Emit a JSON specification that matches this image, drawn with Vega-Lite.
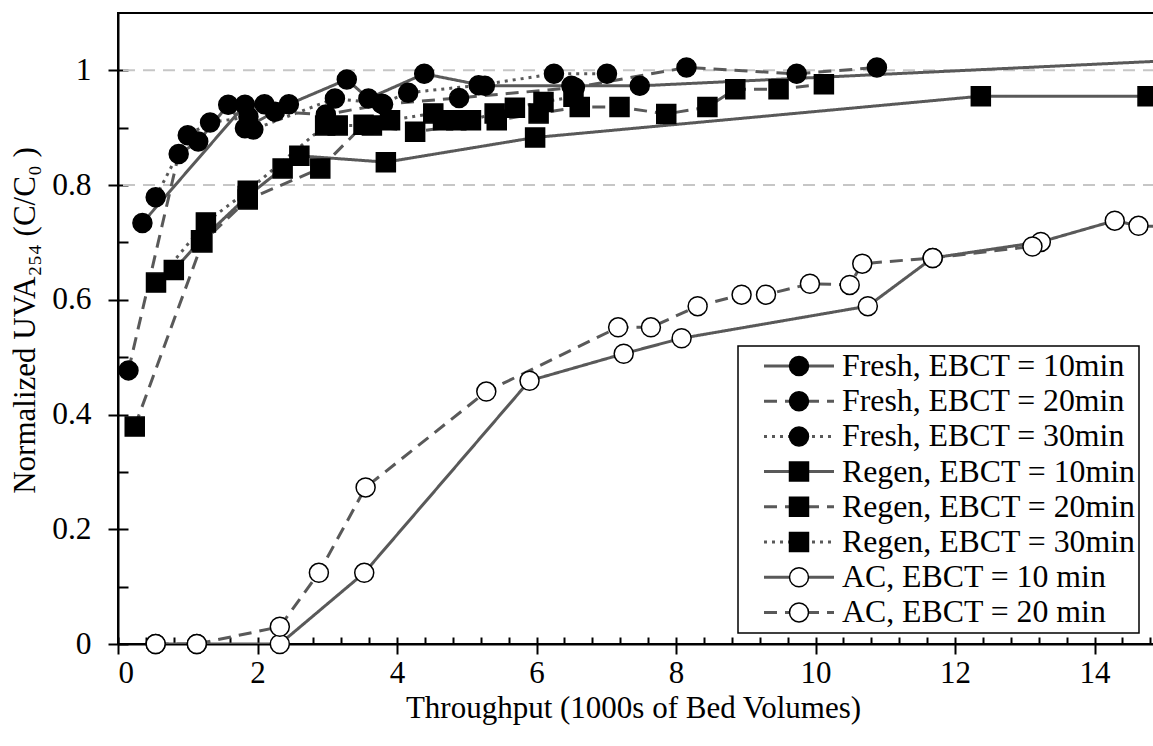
{
  "$schema": "https://vega.github.io/schema/vega-lite/v6.json",
  "width": 1037,
  "height": 631,
  "autosize": {"type": "none"},
  "padding": {"left": 118, "top": 13, "right": -2, "bottom": 102},
  "background": "white",
  "config": {
    "view": {"stroke": "black", "strokeWidth": 2},
    "axis": {
      "labelFont": "Liberation Serif",
      "titleFont": "Liberation Serif",
      "labelColor": "black",
      "titleColor": "black",
      "titleFontWeight": "normal",
      "domainColor": "black",
      "tickColor": "black",
      "domainWidth": 2,
      "tickWidth": 2,
      "grid": false
    },
    "legend": {"strokeWidth": 1.5}
  },
  "data": {
    "values": [
      {"s": "Fresh, EBCT = 10min", "x": 0.35, "y": 0.734},
      {"s": "Fresh, EBCT = 10min", "x": 1.82, "y": 0.94},
      {"s": "Fresh, EBCT = 10min", "x": 2.10, "y": 0.941},
      {"s": "Fresh, EBCT = 10min", "x": 2.45, "y": 0.941},
      {"s": "Fresh, EBCT = 10min", "x": 3.28, "y": 0.984},
      {"s": "Fresh, EBCT = 10min", "x": 3.59, "y": 0.951},
      {"s": "Fresh, EBCT = 10min", "x": 4.39, "y": 0.994},
      {"s": "Fresh, EBCT = 10min", "x": 5.26, "y": 0.973},
      {"s": "Fresh, EBCT = 10min", "x": 6.50, "y": 0.973},
      {"s": "Fresh, EBCT = 10min", "x": 7.48, "y": 0.973},
      {"s": "Fresh, EBCT = 10min", "x": 17.0, "y": 1.028},

      {"s": "Fresh, EBCT = 20min", "x": 0.15, "y": 0.477},
      {"s": "Fresh, EBCT = 20min", "x": 0.87, "y": 0.854},
      {"s": "Fresh, EBCT = 20min", "x": 1.15, "y": 0.876},
      {"s": "Fresh, EBCT = 20min", "x": 1.58, "y": 0.94},
      {"s": "Fresh, EBCT = 20min", "x": 1.82, "y": 0.899},
      {"s": "Fresh, EBCT = 20min", "x": 2.25, "y": 0.928},
      {"s": "Fresh, EBCT = 20min", "x": 2.98, "y": 0.923},
      {"s": "Fresh, EBCT = 20min", "x": 3.80, "y": 0.941},
      {"s": "Fresh, EBCT = 20min", "x": 4.89, "y": 0.952},
      {"s": "Fresh, EBCT = 20min", "x": 6.55, "y": 0.97},
      {"s": "Fresh, EBCT = 20min", "x": 8.15, "y": 1.005},
      {"s": "Fresh, EBCT = 20min", "x": 9.73, "y": 0.994},
      {"s": "Fresh, EBCT = 20min", "x": 10.88, "y": 1.005},

      {"s": "Fresh, EBCT = 30min", "x": 0.54, "y": 0.779},
      {"s": "Fresh, EBCT = 30min", "x": 1.0, "y": 0.887},
      {"s": "Fresh, EBCT = 30min", "x": 1.32, "y": 0.909},
      {"s": "Fresh, EBCT = 30min", "x": 1.87, "y": 0.919},
      {"s": "Fresh, EBCT = 30min", "x": 1.94, "y": 0.897},
      {"s": "Fresh, EBCT = 30min", "x": 3.11, "y": 0.951},
      {"s": "Fresh, EBCT = 30min", "x": 3.78, "y": 0.942},
      {"s": "Fresh, EBCT = 30min", "x": 4.16, "y": 0.961},
      {"s": "Fresh, EBCT = 30min", "x": 5.17, "y": 0.974},
      {"s": "Fresh, EBCT = 30min", "x": 6.25, "y": 0.994},
      {"s": "Fresh, EBCT = 30min", "x": 7.01, "y": 0.994},

      {"s": "Regen, EBCT = 10min", "x": 0.80, "y": 0.652},
      {"s": "Regen, EBCT = 10min", "x": 1.19, "y": 0.704},
      {"s": "Regen, EBCT = 10min", "x": 1.86, "y": 0.781},
      {"s": "Regen, EBCT = 10min", "x": 2.36, "y": 0.829},
      {"s": "Regen, EBCT = 10min", "x": 2.60, "y": 0.851},
      {"s": "Regen, EBCT = 10min", "x": 3.84, "y": 0.84},
      {"s": "Regen, EBCT = 10min", "x": 5.98, "y": 0.883},
      {"s": "Regen, EBCT = 10min", "x": 12.37, "y": 0.955},
      {"s": "Regen, EBCT = 10min", "x": 14.76, "y": 0.955},

      {"s": "Regen, EBCT = 20min", "x": 0.24, "y": 0.379},
      {"s": "Regen, EBCT = 20min", "x": 1.21, "y": 0.70},
      {"s": "Regen, EBCT = 20min", "x": 1.86, "y": 0.775},
      {"s": "Regen, EBCT = 20min", "x": 2.90, "y": 0.829},
      {"s": "Regen, EBCT = 20min", "x": 3.52, "y": 0.905},
      {"s": "Regen, EBCT = 20min", "x": 4.26, "y": 0.893},
      {"s": "Regen, EBCT = 20min", "x": 5.43, "y": 0.913},
      {"s": "Regen, EBCT = 20min", "x": 6.03, "y": 0.925},
      {"s": "Regen, EBCT = 20min", "x": 6.62, "y": 0.936},
      {"s": "Regen, EBCT = 20min", "x": 7.19, "y": 0.936},
      {"s": "Regen, EBCT = 20min", "x": 7.86, "y": 0.924},
      {"s": "Regen, EBCT = 20min", "x": 8.45, "y": 0.936},
      {"s": "Regen, EBCT = 20min", "x": 8.85, "y": 0.967},
      {"s": "Regen, EBCT = 20min", "x": 9.47, "y": 0.967},
      {"s": "Regen, EBCT = 20min", "x": 10.12, "y": 0.976},

      {"s": "Regen, EBCT = 30min", "x": 0.545, "y": 0.63},
      {"s": "Regen, EBCT = 30min", "x": 1.26, "y": 0.735},
      {"s": "Regen, EBCT = 30min", "x": 1.86, "y": 0.79},
      {"s": "Regen, EBCT = 30min", "x": 2.97, "y": 0.904},
      {"s": "Regen, EBCT = 30min", "x": 3.15, "y": 0.904},
      {"s": "Regen, EBCT = 30min", "x": 3.64, "y": 0.904},
      {"s": "Regen, EBCT = 30min", "x": 3.90, "y": 0.913},
      {"s": "Regen, EBCT = 30min", "x": 4.52, "y": 0.925},
      {"s": "Regen, EBCT = 30min", "x": 4.66, "y": 0.913},
      {"s": "Regen, EBCT = 30min", "x": 4.85, "y": 0.913},
      {"s": "Regen, EBCT = 30min", "x": 5.06, "y": 0.913},
      {"s": "Regen, EBCT = 30min", "x": 5.40, "y": 0.925},
      {"s": "Regen, EBCT = 30min", "x": 5.69, "y": 0.935},
      {"s": "Regen, EBCT = 30min", "x": 6.10, "y": 0.945},
      {"s": "Regen, EBCT = 30min", "x": 6.53, "y": 0.954},

      {"s": "AC, EBCT = 10 min", "x": 0.54, "y": 0},
      {"s": "AC, EBCT = 10 min", "x": 1.13, "y": 0},
      {"s": "AC, EBCT = 10 min", "x": 2.32, "y": 0},
      {"s": "AC, EBCT = 10 min", "x": 3.53, "y": 0.124},
      {"s": "AC, EBCT = 10 min", "x": 5.90, "y": 0.459},
      {"s": "AC, EBCT = 10 min", "x": 7.25, "y": 0.506},
      {"s": "AC, EBCT = 10 min", "x": 8.08, "y": 0.533},
      {"s": "AC, EBCT = 10 min", "x": 10.75, "y": 0.589},
      {"s": "AC, EBCT = 10 min", "x": 11.68, "y": 0.673},
      {"s": "AC, EBCT = 10 min", "x": 13.23, "y": 0.701},
      {"s": "AC, EBCT = 10 min", "x": 14.29, "y": 0.738},
      {"s": "AC, EBCT = 10 min", "x": 14.63, "y": 0.729},
      {"s": "AC, EBCT = 10 min", "x": 15.5, "y": 0.725},

      {"s": "AC, EBCT = 20 min", "x": 0.54, "y": 0},
      {"s": "AC, EBCT = 20 min", "x": 1.13, "y": 0},
      {"s": "AC, EBCT = 20 min", "x": 2.32, "y": 0.03},
      {"s": "AC, EBCT = 20 min", "x": 2.88, "y": 0.124},
      {"s": "AC, EBCT = 20 min", "x": 3.55, "y": 0.273},
      {"s": "AC, EBCT = 20 min", "x": 5.28, "y": 0.44},
      {"s": "AC, EBCT = 20 min", "x": 7.17, "y": 0.552},
      {"s": "AC, EBCT = 20 min", "x": 7.64, "y": 0.552},
      {"s": "AC, EBCT = 20 min", "x": 8.31, "y": 0.589},
      {"s": "AC, EBCT = 20 min", "x": 8.94, "y": 0.609},
      {"s": "AC, EBCT = 20 min", "x": 9.29, "y": 0.609},
      {"s": "AC, EBCT = 20 min", "x": 9.92, "y": 0.628},
      {"s": "AC, EBCT = 20 min", "x": 10.49, "y": 0.626},
      {"s": "AC, EBCT = 20 min", "x": 10.67, "y": 0.663},
      {"s": "AC, EBCT = 20 min", "x": 11.68, "y": 0.673},
      {"s": "AC, EBCT = 20 min", "x": 13.11, "y": 0.693}
    ]
  },
  "layer": [
    {
      "data": {"values": [{"g": 0.8}, {"g": 1.0}]},
      "mark": {"type": "rule", "color": "#c6c6c6", "strokeWidth": 2, "strokeDash": [12, 8]},
      "encoding": {
        "y": {
          "field": "g",
          "type": "quantitative",
          "scale": {"domain": [0, 1.1], "nice": false, "zero": false},
          "axis": {
            "orient": "left",
            "values": [0, 0.2, 0.4, 0.6, 0.8, 1.0],
            "format": "~g",
            "tickSize": 10,
            "labelFontSize": 31.5,
            "labelPadding": 17,
            "title": "Normalized UVA₂₅₄ (C/C₀ )",
            "titleFontSize": 31,
            "titleAngle": -90,
            "titleAlign": "center",
            "titleBaseline": "alphabetic",
            "titleX": -84,
            "titleY": 307
          }
        }
      }
    },
    {
      "mark": {"type": "line", "color": "#595959", "strokeWidth": 3, "clip": true},
      "encoding": {
        "x": {
          "field": "x",
          "type": "quantitative",
          "scale": {"domain": [0, 14.867], "nice": false, "zero": false},
          "axis": {
            "orient": "bottom",
            "values": [0, 2, 4, 6, 8, 10, 12, 14],
            "format": "~g",
            "tickSize": 10,
            "labelFontSize": 31,
            "labelPadding": 4,
            "title": "Throughput (1000s of Bed Volumes)",
            "titleFontSize": 31,
            "titleAlign": "center",
            "titleBaseline": "alphabetic",
            "titleX": 515,
            "titleY": 73
          }
        },
        "y": {
          "field": "y",
          "type": "quantitative",
          "axis": {
            "orient": "left",
            "values": [0, 0.1, 0.2, 0.3, 0.4, 0.5, 0.6, 0.7, 0.8, 0.9, 1.0],
            "tickSize": -10,
            "labels": false,
            "domain": false,
            "title": null
          }
        },
        "strokeDash": {
          "field": "s",
          "type": "nominal",
          "sort": [
            "Fresh, EBCT = 10min", "Fresh, EBCT = 20min", "Fresh, EBCT = 30min",
            "Regen, EBCT = 10min", "Regen, EBCT = 20min", "Regen, EBCT = 30min",
            "AC, EBCT = 10 min", "AC, EBCT = 20 min"
          ],
          "scale": {
            "range": [[1, 0], [13, 8], [3, 5], [1, 0], [13, 8], [3, 5], [1, 0], [13, 8]]
          },
          "legend": {
            "orient": "none",
            "legendX": 620,
            "legendY": 333,
            "title": null,
            "padding": 3,
            "strokeColor": "black",
            "fillColor": "transparent",
            "symbolType": "stroke",
            "symbolSize": 4900,
            "symbolStrokeWidth": 3,
            "symbolStrokeColor": "#595959",
            "symbolOffset": 21.5,
            "labelOffset": 6.5,
            "labelFont": "Liberation Serif",
            "labelFontSize": 31.8,
            "labelColor": "black",
            "labelLimit": 2000,
            "labelExpr": "datum.label + '        '",
            "clipHeight": 34,
            "rowPadding": 1.2,
            "zindex": 1
          }
        }
      }
    },
    {
      "mark": {"type": "point", "filled": false, "stroke": "black", "strokeWidth": 1.5, "size": 361, "opacity": 1},
      "encoding": {
        "x": {
          "field": "x",
          "type": "quantitative",
          "axis": {
            "orient": "bottom",
            "values": [0, 0.4, 0.8, 1.2, 1.6, 2, 2.4, 2.8, 3.2, 3.6, 4, 4.4, 4.8, 5.2, 5.6, 6, 6.4, 6.8, 7.2, 7.6, 8, 8.4, 8.8, 9.2, 9.6, 10, 10.4, 10.8, 11.2, 11.6, 12, 12.4, 12.8, 13.2, 13.6, 14, 14.4, 14.8],
            "tickSize": -7,
            "labels": false,
            "domain": false,
            "title": null
          }
        },
        "y": {"field": "y", "type": "quantitative", "axis": null},
        "shape": {
          "field": "s",
          "type": "nominal",
          "scale": {
            "domain": [
              "Fresh, EBCT = 10min", "Fresh, EBCT = 20min", "Fresh, EBCT = 30min",
              "Regen, EBCT = 10min", "Regen, EBCT = 20min", "Regen, EBCT = 30min",
              "AC, EBCT = 10 min", "AC, EBCT = 20 min"
            ],
            "range": ["circle", "circle", "circle", "square", "square", "square", "circle", "circle"]
          },
          "legend": {
            "orient": "none",
            "legendX": 662.5,
            "legendY": 333,
            "title": null,
            "padding": 3,
            "fillColor": "transparent",
            "symbolSize": 361,
            "symbolOffset": 0,
            "labelFont": "Liberation Serif",
            "labelFontSize": 31,
            "labelOpacity": 0,
            "labelExpr": "''",
            "clipHeight": 34,
            "rowPadding": 1.2,
            "zindex": 2
          }
        },
        "fill": {
          "field": "s",
          "type": "nominal",
          "scale": {
            "domain": [
              "Fresh, EBCT = 10min", "Fresh, EBCT = 20min", "Fresh, EBCT = 30min",
              "Regen, EBCT = 10min", "Regen, EBCT = 20min", "Regen, EBCT = 30min",
              "AC, EBCT = 10 min", "AC, EBCT = 20 min"
            ],
            "range": ["black", "black", "black", "black", "black", "black", "white", "white"]
          },
          "legend": {
            "orient": "none",
            "legendX": 662.5,
            "legendY": 333,
            "title": null,
            "padding": 3,
            "fillColor": "transparent",
            "symbolSize": 361,
            "symbolOffset": 0,
            "labelFont": "Liberation Serif",
            "labelFontSize": 31,
            "labelOpacity": 0,
            "labelExpr": "''",
            "clipHeight": 34,
            "rowPadding": 1.2,
            "zindex": 2
          }
        }
      }
    }
  ],
  "resolve": {"axis": {"x": "independent", "y": "independent"}}
}
